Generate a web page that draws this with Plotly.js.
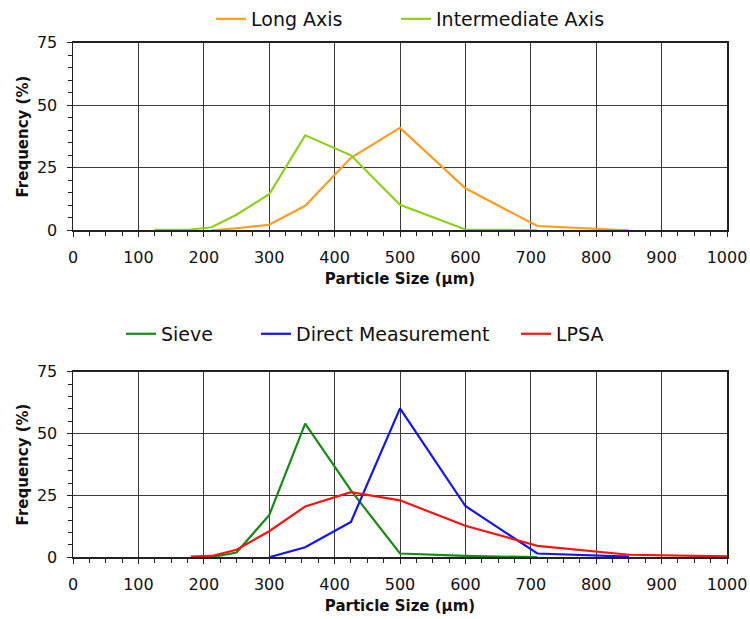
<!DOCTYPE html>
<html><head><meta charset="utf-8">
<script src="https://cdn.plot.ly/plotly-3.0.1.min.js"></script>
<style>body{margin:0;background:#fff}#c{width:750px;height:619px}</style>
</head><body><div id="c"></div>
<script>
// Top panel
const longX = [212, 250, 300, 355, 425, 500, 600, 710, 850];
const longY = [0, 0.8, 2.2, 9.8, 29, 41, 16.8, 1.7, 0];
const interX = [125, 180, 212, 250, 300, 355, 425, 500, 600, 710];
const interY = [0.2, 0.3, 1.2, 6.2, 14.4, 38, 30, 10.2, 0.3, 0];
// Bottom panel
const sieveX = [212, 250, 300, 355, 425, 500, 600, 710];
const sieveY = [0, 1.9, 17, 54, 27, 1.5, 0.5, 0];
const directX = [300, 355, 425, 500, 600, 710, 850];
const directY = [0, 4, 14.3, 60.2, 20.7, 1.5, 0.2];
const lpsaX = [180, 212, 250, 300, 355, 425, 500, 600, 710, 850, 1000];
const lpsaY = [0.2, 0.5, 3, 10.5, 20.5, 26.3, 23, 12.7, 4.6, 1, 0.3];
const yTicks = [0, 25, 50, 75];
const xTicks = [0, 100, 200, 300, 400, 500, 600, 700, 800, 900, 1000];

const W = 750, H = 619;
const px = v => v / W, py = v => 1 - v / H;
const font = {family: 'DejaVu Sans, sans-serif', color: '#111'};

function tr(x, y, name, color, xa, ya, leg) {
  return {x, y, name, type: 'scatter', mode: 'lines', xaxis: xa, yaxis: ya, legend: leg,
    showlegend: true, line: {color, width: 2.2}, hoverinfo: 'skip'};
}
const data = [
  tr(longX, longY, 'Long Axis', '#ff9c1f', 'x', 'y', 'legend'),
  tr(interX, interY, 'Intermediate Axis', '#8fcf1a', 'x', 'y', 'legend2'),
  tr(sieveX, sieveY, 'Sieve', '#158a15', 'x2', 'y2', 'legend3'),
  tr(directX, directY, 'Direct Measurement', '#1212ff', 'x2', 'y2', 'legend4'),
  tr(lpsaX, lpsaY, 'LPSA', '#ff1212', 'x2', 'y2', 'legend5')
];

function xaxis(anchor, dom) {
  return {anchor, domain: dom, range: [0, 1000], tickvals: xTicks, ticktext: xTicks.map(String),
    showgrid: true, gridcolor: '#3a3a3a', gridwidth: 1, showline: true, linecolor: '#222', linewidth: 1.5,
    mirror: true, ticks: 'outside', ticklen: 5, tickcolor: '#222', zeroline: false,
    ticklabelstandoff: 7,
    minor: {dtick: 25, tick0: 0, ticks: 'outside', ticklen: 4, tickcolor: '#222', showgrid: false},
    tickfont: {...font, size: 16},
    title: {text: '<b>Particle Size (µm)</b>', font: {...font, size: 15}, standoff: 7}};
}
function yaxis(anchor, dom) {
  return {anchor, domain: dom, range: [0, 75], tickvals: yTicks, ticktext: yTicks.map(String),
    showgrid: true, gridcolor: '#3a3a3a', gridwidth: 1, showline: true, linecolor: '#222', linewidth: 1.5,
    mirror: true, ticks: 'outside', ticklen: 5, tickcolor: '#222', zeroline: false,
    ticklabelstandoff: 6,
    minor: {dtick: 5, tick0: 0, ticks: 'outside', ticklen: 4, tickcolor: '#222', showgrid: false},
    tickfont: {...font, size: 16},
    title: {text: '<b>Frequency (%)</b>', font: {...font, size: 15}, standoff: 4}};
}
function leg(x, y) {
  return {x: px(x), y: py(y), xanchor: 'left', yanchor: 'middle', orientation: 'h', visible: true,
    font: {...font, size: 19}, bgcolor: 'rgba(0,0,0,0)', borderwidth: 0, tracegroupgap: 0};
}
const xd = [px(73), px(727)];
const layout = {
  width: W, height: H, margin: {l: 0, r: 0, t: 0, b: 0}, showlegend: true,
  paper_bgcolor: '#fff', plot_bgcolor: '#fff', font,
  xaxis: xaxis('y', xd), yaxis: yaxis('x', [py(229), py(41)]),
  xaxis2: xaxis('y2', xd), yaxis2: yaxis('x2', [py(557), py(371)]),
  legend: leg(211, 17), legend2: leg(396, 17),
  legend3: leg(121, 333), legend4: leg(256, 333), legend5: leg(516, 333)
};
Plotly.newPlot('c', data, layout, {staticPlot: true});
</script></body></html>
